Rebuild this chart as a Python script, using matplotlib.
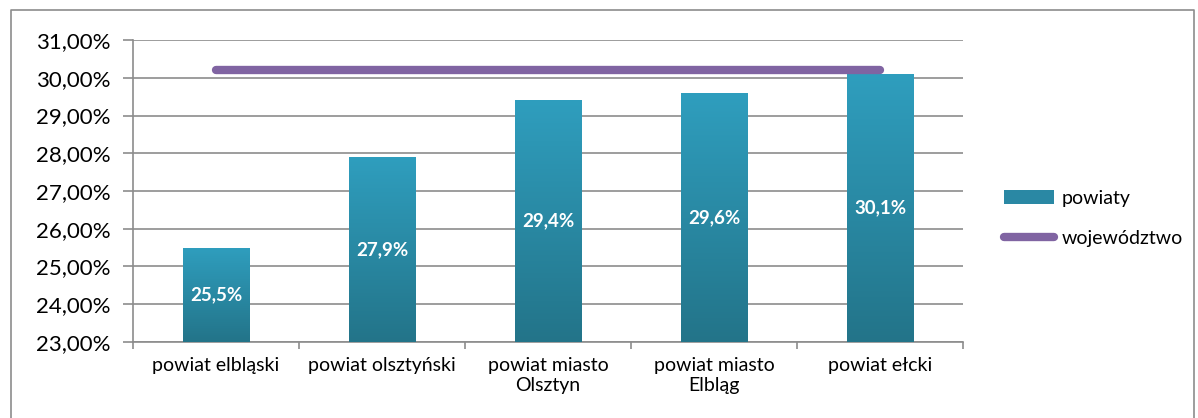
import numpy as np
import matplotlib
matplotlib.use('Agg')
import matplotlib.pyplot as plt
from matplotlib.patches import Patch, Rectangle
from matplotlib.lines import Line2D
from matplotlib.ticker import FuncFormatter, FixedLocator

# data
categories = ['powiat elbląski', 'powiat olsztyński', 'powiat miasto\nOlsztyn',
              'powiat miasto\nElbląg', 'powiat ełcki']
powiaty = [25.5, 27.9, 29.4, 29.6, 30.1]
wojewodztwo = [30.2, 30.2, 30.2, 30.2, 30.2]
bar_labels = ['25,5%', '27,9%', '29,4%', '29,6%', '30,1%']

plt.rcParams['font.family'] = ['Lato', 'DejaVu Sans']

fig = plt.figure(figsize=(11.98, 4.18), dpi=100)
ax = fig.add_axes([0.111, 0.182, 0.693, 0.722])

x = np.arange(len(categories))
ymin, ymax = 23, 31
width = 0.4

# gradient bars: lighter teal on top, darker at the bottom
grad = np.linspace(0, 1, 256).reshape(-1, 1)
cmap = matplotlib.colors.LinearSegmentedColormap.from_list('bar', ['#237489', '#2F9EBE'])
bars = ax.bar(x, np.array(powiaty) - ymin, bottom=ymin, width=width, color='none', zorder=3)
for b in bars:
    x0, y0 = b.get_x(), b.get_y()
    w, h = b.get_width(), b.get_height()
    im = ax.imshow(grad, cmap=cmap, aspect='auto', origin='lower',
                   extent=[x0, x0 + w, y0, y0 + h], zorder=3)
    im.set_clip_path(Rectangle((x0, y0), w, h, transform=ax.transData))

for xi, v, lab in zip(x, powiaty, bar_labels):
    ax.text(xi, (ymin + v) / 2, lab, ha='center', va='center', color='white',
            fontsize=13.5, fontweight='bold', zorder=4)

ax.plot(x, wojewodztwo, color='#8064A2', lw=6, solid_capstyle='round', zorder=5)

ax.set_xlim(-0.5, len(categories) - 0.5)
ax.set_ylim(ymin, ymax)
ax.yaxis.set_major_locator(FixedLocator(np.arange(23, 32, 1)))
ax.yaxis.set_major_formatter(FuncFormatter(lambda v, p: f'{v:.2f}%'.replace('.', ',')))
ax.grid(axis='y', color='#8C8C8C', lw=1.2, zorder=0)
ax.set_axisbelow(True)

ax.set_xticks(x)
ax.set_xticklabels(categories, fontsize=14)
ax.set_xticks(np.arange(-0.5, len(categories)), minor=True)
ax.tick_params(axis='x', which='major', length=0, pad=11)
ax.tick_params(axis='x', which='minor', length=5, color='#8C8C8C', width=1.2)
ax.tick_params(axis='y', length=7, color='#8C8C8C', width=1.2, labelsize=16, pad=9)

for s in ['top', 'right']:
    ax.spines[s].set_visible(False)
for s in ['left', 'bottom']:
    ax.spines[s].set_color('#8C8C8C')
    ax.spines[s].set_linewidth(1.2)

handles = [Patch(facecolor='#2A88A4', label='powiaty'),
           Line2D([0], [0], color='#8064A2', lw=6, solid_capstyle='round', label='województwo')]
fig.legend(handles=handles, loc='center left', bbox_to_anchor=(0.838, 0.477), frameon=False,
           fontsize=14, handlelength=2.6, handletextpad=0.35, labelspacing=1.2,
           borderpad=0, borderaxespad=0)

# outer chart frame (bottom edge falls outside the picture)
fig.add_artist(Line2D([0.0095, 0.0095, 0.9965, 0.9965], [0.0, 0.976, 0.976, 0.0],
                      transform=fig.transFigure, color='#8C8C8C', lw=1.2))

fig.savefig('out.png', dpi=100)
